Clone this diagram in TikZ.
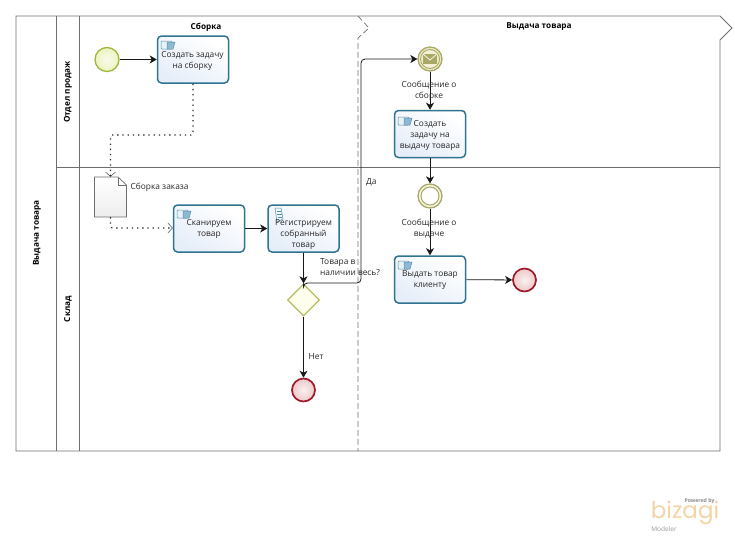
\documentclass[tikz,border=0pt]{standalone}
\usepackage{fontspec}
\setmainfont{Open Sans}
\newfontfamily\logofont{Poppins}
\usetikzlibrary{arrows.meta,shapes.geometric,calc}
\definecolor{poolline}{HTML}{6E6E6E}
\definecolor{taskline}{HTML}{2F7390}
\definecolor{taskfill}{HTML}{E6EEF9}
\definecolor{startline}{HTML}{9DB83C}
\definecolor{startfill}{HTML}{EDF3C0}
\definecolor{endline}{HTML}{9E1B2B}
\definecolor{endfill}{HTML}{EDC8C8}
\definecolor{gateline}{HTML}{B9BA5E}
\definecolor{gatefill}{HTML}{FFFFEE}
\definecolor{msgline}{HTML}{A9A866}
\definecolor{msgfill}{HTML}{ECEBC4}
\definecolor{iconblue}{HTML}{6FA9C9}
\definecolor{logoorange}{HTML}{F3D4A6}
\tikzset{
  x=1pt,y=-1pt,
  txt/.style={font=\fontsize{8.35}{11}\selectfont,align=center,inner sep=0pt,text=black!85},
  lbl/.style={txt,anchor=west,align=left},
  head/.style={font=\fontsize{8.2}{11}\selectfont\bfseries,inner sep=0pt},
  pool/.style={draw=poolline,line width=0.9pt},
  taskbox/.style={draw=taskline,line width=1.5pt,rounded corners=4pt,minimum width=71pt,minimum height=47pt,inner sep=0pt,top color=white,bottom color=taskfill,shading angle=-30},
  startev/.style={circle,draw=startline,line width=1.3pt,minimum size=24pt,inner sep=0pt,shading=radial,inner color=startfill!30,outer color=startfill},
  endev/.style={circle,draw=endline,line width=1.7pt,minimum size=23pt,inner sep=0pt,shading=radial,inner color=endfill!25,outer color=endfill},
  midev/.style={circle,draw=msgline,line width=1.3pt,minimum size=24pt,inner sep=0pt,fill=msgfill},
  gate/.style={diamond,draw=gateline,line width=1.3pt,minimum width=32pt,minimum height=32pt,inner sep=0pt,fill=gatefill},
  docbox/.style={minimum width=32pt,minimum height=40pt,inner sep=0pt},
  flow/.style={draw=black!90,line width=0.8pt,-{Stealth[length=7pt,width=8pt,inset=2pt]}},
  assoc/.style={draw=black!85,line width=1.2pt,dash pattern=on 1.3pt off 3.9pt,-{Straight Barb[length=4.5pt,width=10pt,line width=0.5pt,black!70]}},
  fold/.style={draw=taskline!80,line width=0.5pt,fill=iconblue!15},
}
\newcommand{\usericon}[1]{%
  \path[fold,rounded corners=1pt] ($(#1)+(4,5)$) rectangle ++(11,8);
  \path[fold,fill=iconblue!80] ($(#1)+(10,6)$) -- ++(8,0) -- ++(-2,7) -- ++(-6,0) -- cycle;
}
\begin{document}
\begin{tikzpicture}
\useasboundingbox (0,0) rectangle (735,539);
% pool and lanes
\draw[pool] (16,16) -- (720,16) -- (732,28) -- (720,40) -- (720,451) -- (16,451) -- cycle;
\draw[pool] (56,16) -- (56,451);
\draw[pool] (79,16) -- (79,451);
\draw[pool] (56,167) -- (720,167);
\draw[poolline,line width=0.7pt,dash pattern=on 6pt off 3pt] (358,16) -- (369,28) -- (358,38) -- (358,451);
\node[head,rotate=90] (poolname) at (37,233) {Выдача товара};
\node[head,rotate=90] (lane1) at (68,92) {Отдел продаж};
\node[head,rotate=90] (lane2) at (68,309) {Склад};
\node[head] (ph1) at (206,27) {Сборка};
\node[head] (ph2) at (539,27) {Выдача товара};
% elements
\node[startev] (start) at (107,59.5) {};
\node[taskbox] (t1) at (193,59.5) {};
\node[docbox] (doc) at (110.5,197) {};
\path[draw=poolline,line width=0.7pt,top color=white,bottom color=black!7]
  (94.5,177) -- (118,177) -- (126.5,185) -- (126.5,217) -- (94.5,217) -- cycle;
\draw[poolline,line width=0.6pt] (118,177) -- (118,185) -- (126.5,185);
\node[taskbox] (t2) at (209,228.5) {};
\node[taskbox] (t3) at (303.5,228.5) {};
\node[gate] (gw) at (303.5,300) {};
\node[endev] (end1) at (303.5,390) {};
\node[midev] (msg) at (430,59) {};
\draw[msgline,line width=0.9pt,fill=msgfill!70!white] (msg) circle (9.5);
\node[taskbox] (t4) at (430,134) {};
\node[midev,fill=msgfill!50!white] (ring) at (430,196) {};
\draw[msgline,line width=1pt,fill=white] (ring) circle (9);
\node[taskbox] (t5) at (430,279.5) {};
\node[endev] (end2) at (524.5,280) {};
% envelope
\path[fill=msgline] ($(msg)+(-7,-5)$) rectangle ($(msg)+(7,5)$);
\draw[msgfill!70!white,line width=0.9pt] ($(msg)+(-7,-5)$) -- ($(msg)+(0,1)$) -- ($(msg)+(7,-5)$);
% icons
\coordinate (i1) at (157,36); \usericon{i1}
\coordinate (i2) at (173,205); \usericon{i2}
\coordinate (i4) at (394,112); \usericon{i4}
\coordinate (i5) at (394,256); \usericon{i5}
\path[fold,fill=iconblue!10] (275,208) -- (281,208) -- (283,219) -- (277,222) -- cycle;
\draw[taskline!80,line width=0.4pt] (276.5,211) -- (281,211) (277,214) -- (281.5,214) (277.5,217) -- (282,217);
% connector helpers
\coordinate (c1a) at (193,135);
\coordinate (c1b) at (110.5,135);
\coordinate (c2a) at (110.5,228);
\coordinate (c3a) at (361,283);
\coordinate (c3b) at (361,59);
% connectors
\draw[flow] (start) -- (t1);
\draw[assoc,rounded corners=2pt] (t1.south) -- (c1a) -- (c1b) -- (doc.north);
\draw[assoc,rounded corners=2pt] (doc.south) -- (c2a) -- (t2.west |- c2a);
\draw[flow] (t2) -- (t3);
\draw[flow] (t3) -- (gw);
\draw[flow] (gw) -- (end1);
\draw[flow,rounded corners=4pt] (gw.north) -- (gw.north |- c3a) -- (c3a) -- (c3b) -- (msg);
\draw[flow] (msg) -- (t4);
\draw[flow] (t4) -- (ring);
\draw[flow] (ring) -- (t5);
\draw[flow] (t5) -- (end2);
% texts
\node[txt] (x1) at (192.5,60.5) {Создать задачу\\на сборку};
\node[txt] (x2) at (209,229) {Сканируем\\товар};
\node[txt] (x3) at (303.5,235) {Регистрируем\\собранный\\товар};
\node[txt] (x4) at (430,135.5) {Создать\\задачу на\\выдачу товара};
\node[txt] (x5) at (430,280) {Выдать товар\\клиенту};
\node[txt] (x6) at (429,91) {Сообщение о\\сборке};
\node[txt] (x7) at (429,229) {Сообщение о\\выдаче};
\node[lbl] (x8) at (130.5,187) {Сборка заказа};
\node[lbl] (x9) at (320,267.5) {Товара в\\наличии весь?};
\node[lbl] (x10) at (366,182) {Да};
\node[lbl] (x11) at (308.5,357) {Нет};
% logo
\node[inner sep=0pt,text=black!45,font=\fontsize{5.2}{6}\selectfont\bfseries] (lg1) at (699.5,501) {Powered by};
\node[inner sep=0pt,text=logoorange,font=\fontsize{23}{23}\logofont\selectfont] (lg2) at (685,513) {bizagi};
\node[inner sep=0pt,text=black!40,font=\fontsize{6.5}{7}\selectfont] (lg3) at (664,529.5) {Modeler};
\end{tikzpicture}
\end{document}
